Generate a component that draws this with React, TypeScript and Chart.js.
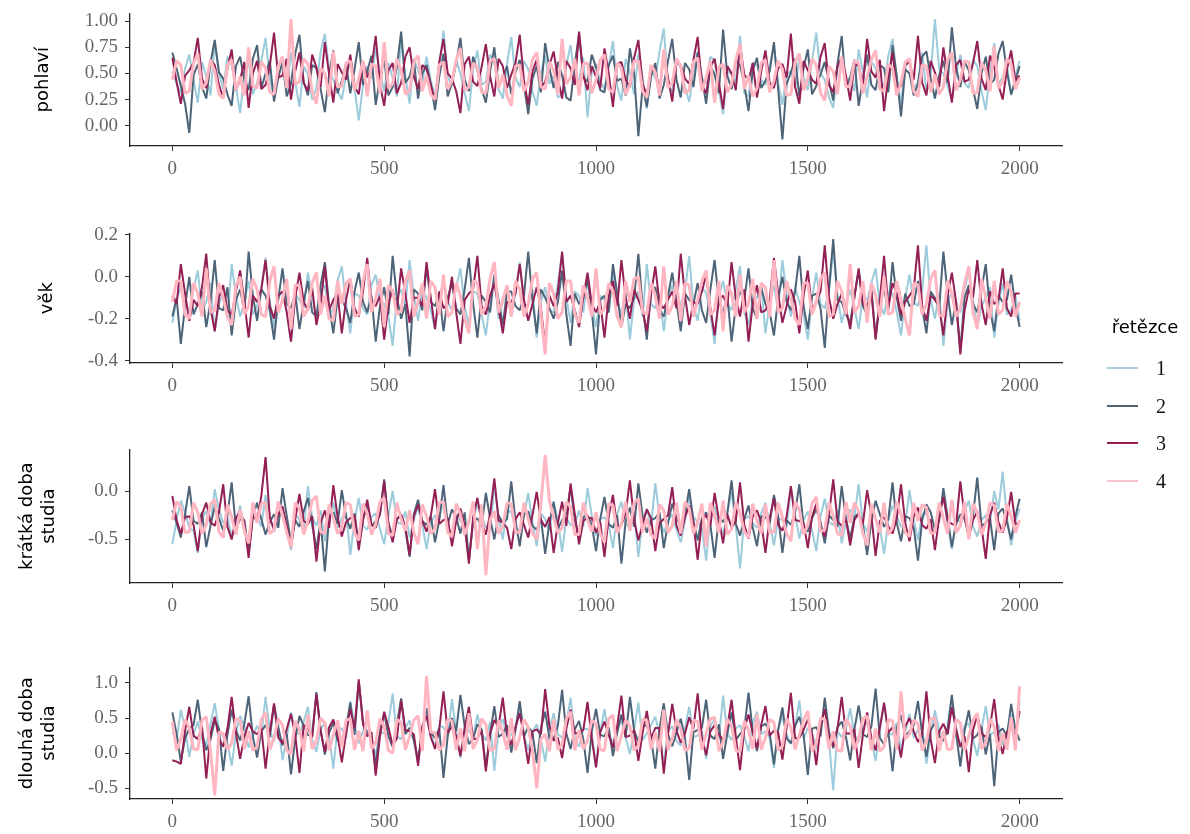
import React, { useEffect, useRef } from 'react';
import { Chart, registerables } from 'chart.js';

Chart.register(...registerables);

// ---------- data ----------
const ITERATIONS = [
  0, 10, 20, 30, 40, 50, 60, 70, 80, 90, 100, 110, 120, 130, 140, 150, 160, 170, 180, 190,
  200, 210, 220, 230, 240, 250, 260, 270, 280, 290, 300, 310, 320, 330, 340, 350, 360, 370, 380, 390,
  400, 410, 420, 430, 440, 450, 460, 470, 480, 490, 500, 510, 520, 530, 540, 550, 560, 570, 580, 590,
  600, 610, 620, 630, 640, 650, 660, 670, 680, 690, 700, 710, 720, 730, 740, 750, 760, 770, 780, 790,
  800, 810, 820, 830, 840, 850, 860, 870, 880, 890, 900, 910, 920, 930, 940, 950, 960, 970, 980, 990,
  1000, 1010, 1020, 1030, 1040, 1050, 1060, 1070, 1080, 1090, 1100, 1110, 1120, 1130, 1140, 1150, 1160, 1170, 1180, 1190,
  1200, 1210, 1220, 1230, 1240, 1250, 1260, 1270, 1280, 1290, 1300, 1310, 1320, 1330, 1340, 1350, 1360, 1370, 1380, 1390,
  1400, 1410, 1420, 1430, 1440, 1450, 1460, 1470, 1480, 1490, 1500, 1510, 1520, 1530, 1540, 1550, 1560, 1570, 1580, 1590,
  1600, 1610, 1620, 1630, 1640, 1650, 1660, 1670, 1680, 1690, 1700, 1710, 1720, 1730, 1740, 1750, 1760, 1770, 1780, 1790,
  1800, 1810, 1820, 1830, 1840, 1850, 1860, 1870, 1880, 1890, 1900, 1910, 1920, 1930, 1940, 1950, 1960, 1970, 1980, 1990,
  2000,
];

const CHAIN_NAMES = ['1', '2', '3', '4'];
const X_TICKS = [0, 500, 1000, 1500, 2000];

// pohlaví
const POHLAVI_1 = [
  .52,.40,.31,.55,.68,.44,.22,.61,.47,.29,.79,.50,.35,.66,.58,.37,.12,.49,.63,.30,
  .41,.62,.84,.45,.27,.58,.55,.34,.70,.42,.18,.57,.49,.25,.36,.71,.88,.53,.44,.33,
  .25,.48,.61,.36,.05,.39,.57,.45,.74,.52,.33,.60,.46,.28,.82,.47,.21,.64,.53,.41,
  .66,.43,.29,.56,.91,.47,.38,.63,.50,.31,.14,.54,.72,.39,.42,.68,.60,.35,.26,.59,
  .85,.46,.37,.62,.54,.33,.19,.51,.67,.40,.48,.27,.30,.58,.77,.44,.43,.65,.08,.52,
  .59,.42,.35,.57,.81,.38,.24,.64,.51,.30,.69,.47,.16,.55,.45,.71,.93,.40,.32,.61,
  .56,.37,.23,.50,.71,.45,.40,.66,.62,.34,.11,.53,.49,.42,.86,.31,.28,.60,.58,.44,
  .39,.58,.75,.41,.20,.49,.52,.36,.65,.47,.34,.62,.89,.50,.44,.27,.17,.55,.60,.39,
  .47,.33,.73,.52,.27,.61,.55,.43,.38,.67,.83,.45,.21,.56,.64,.35,.42,.70,.31,.48,
  1.02,.54,.50,.38,.25,.49,.68,.41,.36,.63,.57,.33,.15,.52,.79,.40,.46,.58,.29,.47,
  .62,
];
const POHLAVI_2 = [
  .70,.55,.38,.21,-.07,.48,.59,.37,.26,.60,.82,.51,.45,.30,.19,.57,.66,.43,.34,.64,
  .77,.36,.50,.62,.23,.46,.61,.28,.40,.69,.87,.42,.29,.58,.55,.35,.13,.49,.72,.31,
  .43,.59,.31,.54,.80,.39,.52,.67,.20,.45,.64,.29,.37,.56,.90,.41,.47,.63,.26,.50,
  .58,.40,.15,.47,.69,.28,.41,.60,.84,.44,.33,.66,.53,.35,.22,.52,.75,.38,.46,.57,
  .30,.51,.63,.39,.11,.45,.57,.32,.79,.55,.36,.61,.48,.27,.24,.59,.88,.46,.42,.68,
  .56,.34,.32,.58,.67,.43,.45,.29,.74,.50,-.10,.38,.18,.47,.60,.26,.39,.62,.83,.44,
  .27,.60,.54,.37,.70,.46,.21,.57,.49,.31,.92,.48,.35,.63,.58,.40,.14,.53,.65,.36,
  .43,.52,.80,.35,-.13,.40,.51,.64,.28,.55,.73,.30,.38,.49,.61,.42,.24,.59,.86,.37,
  .46,.63,.19,.44,.68,.39,.34,.58,.55,.32,.77,.47,.09,.54,.50,.29,.40,.66,.71,.45,
  .26,.48,.62,.41,.94,.56,.37,.61,.53,.35,.16,.50,.66,.40,.44,.69,.81,.52,.30,.43,
  .57,
];
const POHLAVI_3 = [
  .65,.42,.21,.48,.53,.60,.84,.45,.36,.63,.58,.39,.27,.55,.73,.34,.44,.61,.17,.50,
  .62,.35,.39,.57,.89,.46,.48,.64,.25,.52,.70,.41,.33,.68,.56,.37,.80,.49,.22,.59,
  .51,.44,.68,.38,.30,.62,.46,.55,.86,.40,.19,.53,.60,.31,.41,.66,.75,.47,.35,.58,
  .54,.39,.24,.61,.83,.50,.45,.33,.12,.59,.66,.42,.38,.56,.78,.47,.28,.64,.57,.36,
  .49,.60,.87,.43,.20,.52,.63,.37,.42,.58,.71,.45,.26,.62,.55,.39,.90,.48,.34,.57,
  .47,.36,.74,.50,.18,.59,.61,.44,.37,.65,.82,.40,.29,.54,.52,.33,.69,.46,.23,.61,
  .58,.45,.40,.63,.85,.38,.31,.56,.64,.41,.16,.57,.50,.34,.77,.49,.43,.60,.27,.52,
  .72,.41,.36,.55,.59,.46,.88,.37,.21,.62,.53,.44,.40,.66,.79,.39,.32,.57,.65,.48,
  .24,.59,.57,.40,.83,.52,.46,.63,.14,.47,.70,.35,.38,.58,.61,.44,.86,.41,.29,.62,
  .51,.37,.75,.48,.22,.58,.63,.42,.44,.60,.81,.45,.34,.67,.56,.39,.25,.54,.72,.43,
  .48,
];
const POHLAVI_4 = [
  .44,.62,.58,.31,.33,.60,.69,.35,.41,.63,.52,.30,.26,.58,.63,.34,.47,.29,.75,.38,
  .36,.61,.55,.32,.30,.57,.66,.36,1.02,.40,.42,.64,.59,.33,.21,.55,.50,.28,.71,.37,
  .38,.60,.62,.34,.45,.62,.28,.59,.57,.31,.80,.36,.40,.64,.53,.30,.34,.61,.67,.33,
  .48,.30,.25,.58,.61,.35,.43,.63,.74,.34,.37,.60,.56,.32,.31,.62,.64,.36,.49,.29,
  .19,.57,.58,.33,.42,.63,.70,.37,.35,.61,.53,.30,.83,.40,.46,.64,.29,.59,.60,.31,
  .44,.63,.68,.35,.32,.60,.55,.30,.39,.62,.62,.33,.27,.58,.51,.29,.73,.36,.41,.64,
  .57,.31,.34,.61,.65,.33,.46,.62,.22,.56,.59,.32,.40,.63,.78,.35,.48,.28,.36,.60,
  .63,.32,.43,.62,.54,.29,.30,.61,.69,.34,.45,.64,.58,.31,.24,.57,.52,.30,.66,.37,
  .38,.62,.60,.31,.47,.63,.72,.35,.33,.59,.55,.29,.41,.61,.64,.33,.28,.58,.57,.32,
  .49,.30,.37,.63,.70,.34,.44,.62,.61,.31,.32,.60,.53,.33,.76,.36,.42,.64,.59,.35,
  .46,
];

// věk
const VEK_1 = [
  -.22,-.11,-.05,-.14,-.17,-.06,.03,-.16,-.12,-.03,-.26,-.13,-.08,-.20,.06,-.09,-.19,-.12,-.02,-.18,
  -.14,-.05,.09,-.12,-.24,-.10,-.07,-.17,-.31,-.08,-.11,-.15,.02,-.09,-.20,-.07,-.04,-.19,-.15,-.02,
  .05,-.13,-.27,-.08,-.09,-.15,-.18,-.04,.01,-.11,-.13,-.19,-.33,-.10,-.06,-.14,.08,-.09,-.21,-.06,
  -.10,-.16,-.25,-.09,-.03,-.12,-.16,-.05,.04,-.14,-.23,-.07,-.08,-.18,-.28,-.11,.00,-.20,-.12,-.04,
  -.19,-.08,.07,-.13,-.14,-.06,-.29,-.12,-.05,-.16,-.17,-.03,.11,-.10,-.22,-.07,-.09,-.17,-.01,-.14,
  -.24,-.09,-.11,-.17,.03,-.12,-.18,-.06,-.30,-.11,-.07,-.19,.06,-.13,-.15,-.08,-.26,-.10,-.04,-.15,
  -.13,-.07,.10,-.14,-.21,-.05,-.08,-.18,-.32,-.09,-.02,-.13,-.16,-.06,.05,-.17,-.23,-.11,-.10,-.04,
  -.27,-.12,-.04,-.16,.08,-.08,-.19,-.05,-.12,-.18,-.30,-.10,.02,-.13,-.15,-.07,.13,-.09,-.22,-.14,
  -.06,-.15,-.25,-.09,-.11,-.03,.04,-.13,-.18,-.07,-.08,-.17,-.28,-.10,.01,-.12,-.14,-.06,.15,-.11,
  -.20,-.08,-.33,-.12,-.07,-.15,-.17,-.06,.03,-.11,-.24,-.14,-.10,-.05,-.29,-.13,-.03,-.18,-.16,-.09,
  -.21,
];
const VEK_2 = [
  -.19,-.10,-.32,-.14,.00,-.18,-.13,-.07,-.24,-.12,.08,-.15,-.16,-.05,-.28,-.11,-.06,-.17,.12,-.09,
  -.21,-.06,-.09,-.16,-.30,-.11,.04,-.13,-.15,-.08,-.25,-.12,-.02,-.17,-.19,-.04,.07,-.14,-.27,-.10,
  -.11,-.15,-.22,-.07,.02,-.12,-.17,-.09,-.31,-.14,-.05,-.18,.10,-.10,-.20,-.13,-.38,-.06,-.08,-.16,
  .05,-.12,-.14,-.08,-.26,-.10,-.03,-.15,-.18,-.06,.09,-.13,-.29,-.09,-.12,-.17,.01,-.11,-.23,-.07,
  -.07,-.14,-.16,-.09,.12,-.11,-.27,-.06,-.10,-.15,-.20,-.12,.03,-.18,-.33,-.08,-.13,-.10,-.01,-.16,
  -.37,-.11,-.09,-.17,.06,-.08,-.24,-.13,-.15,-.10,.11,-.14,-.30,-.07,-.05,-.16,-.19,-.09,.02,-.12,
  -.26,-.08,-.11,-.13,-.03,-.16,-.22,-.06,.08,-.12,-.17,-.09,-.31,-.14,-.07,-.11,.04,-.15,-.20,-.05,
  -.13,-.17,-.28,-.10,.00,-.12,-.16,-.07,.10,-.14,-.25,-.09,-.08,-.15,-.34,-.06,.18,-.11,-.12,-.18,
  -.22,-.09,.03,-.14,-.18,-.06,-.29,-.11,-.06,-.16,.07,-.10,-.21,-.08,-.14,-.13,-.02,-.15,-.27,-.07,
  -.10,-.15,.12,-.08,-.23,-.12,-.35,-.10,-.04,-.13,-.17,-.06,.06,-.16,-.26,-.09,-.12,-.11,.01,-.14,
  -.24,
];
const VEK_3 = [
  -.09,-.13,.06,-.08,-.21,-.11,-.14,-.05,.11,-.15,-.26,-.10,-.04,-.16,-.18,-.07,.03,-.12,-.29,-.09,
  -.12,-.06,.08,-.14,-.20,-.09,-.07,-.17,-.31,-.10,.02,-.12,-.16,-.05,-.23,-.13,.05,-.16,-.11,-.08,
  -.27,-.11,-.01,-.15,-.19,-.07,.09,-.12,-.14,-.09,-.30,-.13,-.06,-.16,.04,-.08,-.22,-.10,-.10,-.14,
  .07,-.10,-.25,-.07,-.15,-.13,.00,-.17,-.32,-.11,-.08,-.06,.10,-.14,-.18,-.09,-.03,-.15,-.27,-.12,
  -.12,-.08,.06,-.11,-.21,-.13,-.05,-.15,-.33,-.09,-.14,-.07,.12,-.12,-.09,-.16,-.24,-.10,.02,-.13,
  -.17,-.12,-.29,-.09,-.02,-.14,.08,-.10,-.20,-.06,-.11,-.16,-.26,-.08,.05,-.13,-.15,-.11,-.07,-.15,
  .11,-.09,-.23,-.12,-.13,-.07,.01,-.15,-.28,-.11,-.09,-.14,.07,-.10,-.19,-.06,-.31,-.13,-.04,-.17,
  -.16,-.11,.09,-.08,-.22,-.14,-.06,-.12,-.27,-.09,.03,-.16,-.12,-.07,.15,-.10,-.20,-.13,-.08,-.15,
  -.25,-.10,.04,-.13,-.14,-.07,-.30,-.11,.10,-.15,-.03,-.08,-.18,-.12,-.09,-.06,.15,-.14,-.21,-.09,
  -.11,-.14,-.28,-.09,.02,-.12,-.37,-.16,-.06,-.10,.08,-.13,-.23,-.07,-.13,-.11,.04,-.15,-.19,-.08,
  -.08,
];
const VEK_4 = [
  -.12,-.02,-.02,-.18,-.20,-.03,-.08,-.19,.04,-.17,-.16,-.03,-.10,-.19,-.23,-.04,.00,-.18,-.14,-.01,
  -.06,-.18,-.19,-.02,.05,-.17,-.11,-.01,-.25,-.04,-.04,-.19,-.15,-.03,.02,-.18,-.09,-.20,-.21,-.02,
  -.13,-.03,-.01,-.19,-.18,-.02,.06,-.17,-.10,-.01,-.24,-.04,-.07,-.18,-.16,-.02,.03,-.19,-.12,-.03,
  -.20,-.02,-.05,-.18,.01,-.19,-.17,-.03,-.09,-.20,-.27,-.02,-.03,-.18,-.14,-.01,.07,-.17,-.11,-.04,
  -.19,-.02,-.06,-.19,-.13,-.01,.02,-.18,-.37,-.03,-.08,-.20,-.17,-.02,-.02,-.18,-.22,-.04,-.10,-.19,
  .04,-.18,-.15,-.03,-.07,-.19,-.24,-.02,-.12,-.01,.00,-.17,-.18,-.03,-.09,-.20,.05,-.18,-.14,-.02,
  -.21,-.03,-.04,-.19,-.11,-.02,.03,-.18,-.16,-.02,-.26,-.04,-.08,-.19,.01,-.17,-.13,-.01,-.20,-.03,
  -.05,-.19,.08,-.17,-.15,-.02,-.10,-.20,-.23,-.03,-.03,-.18,-.12,-.01,.02,-.19,-.18,-.02,-.07,-.18,
  .06,-.17,-.14,-.02,-.22,-.03,-.09,-.19,.00,-.18,-.17,-.02,-.11,-.20,-.28,-.03,-.04,-.18,-.13,-.01,
  .03,-.18,-.19,-.02,-.08,-.19,-.15,-.03,.05,-.17,-.25,-.01,-.10,-.20,-.02,-.18,-.16,-.02,-.07,-.19,
  -.12,
];

// krátká doba studia
const KRATKA_1 = [
  -.55,-.30,-.10,-.22,-.38,-.41,-.64,-.28,-.21,-.35,.02,-.19,-.33,-.26,-.47,-.33,-.15,-.40,-.58,-.24,
  -.26,-.37,-.04,-.25,-.42,-.29,-.19,-.34,-.61,-.23,-.30,-.41,.05,-.27,-.36,-.20,-.52,-.31,-.12,-.38,
  -.28,-.22,-.66,-.31,-.07,-.36,-.40,-.27,-.23,-.39,-.55,-.25,.00,-.32,-.34,-.21,-.48,-.29,-.17,-.35,
  -.60,-.33,-.25,-.28,-.09,-.40,-.44,-.24,-.31,-.36,-.70,-.30,-.14,-.26,-.37,-.42,.06,-.27,-.50,-.19,
  -.22,-.38,-.41,-.26,-.02,-.32,-.57,-.23,-.29,-.41,-.13,-.30,-.63,-.28,-.35,-.34,-.20,-.37,.03,-.25,
  -.46,-.29,-.27,-.35,-.59,-.24,-.11,-.33,-.39,-.21,-.68,-.30,-.18,-.36,.08,-.27,-.43,-.31,-.24,-.40,
  -.53,-.31,-.06,-.27,-.32,-.39,-.72,-.25,-.16,-.34,-.45,-.22,-.01,-.36,-.80,-.29,-.26,-.33,-.38,-.23,
  -.12,-.34,-.56,-.28,-.30,-.37,.04,-.24,-.49,-.30,-.21,-.41,-.62,-.26,-.08,-.32,-.35,-.20,-.54,-.31,
  -.19,-.27,.07,-.33,-.42,-.22,-.28,-.38,-.65,-.30,-.15,-.26,-.37,-.35,.01,-.29,-.51,-.24,-.23,-.36,
  -.44,-.25,-.03,-.35,-.60,-.28,-.32,-.21,-.10,-.37,-.47,-.30,-.25,-.33,.00,-.19,.20,-.27,-.56,-.32,
  -.18,
];
const KRATKA_2 = [
  -.20,-.33,-.48,-.24,.05,-.31,-.34,-.22,-.58,-.36,-.16,-.28,-.41,-.25,.09,-.38,-.29,-.30,-.63,-.27,
  -.12,-.29,-.45,-.32,-.24,-.38,.03,-.26,-.52,-.30,-.37,-.21,-.07,-.35,-.60,-.31,-.83,-.27,-.22,-.34,
  .01,-.27,-.39,-.23,-.55,-.30,-.14,-.36,-.31,-.25,.12,-.33,-.47,-.29,-.26,-.40,-.68,-.24,-.09,-.31,
  -.35,-.26,-.53,-.30,.06,-.34,-.19,-.27,-.44,-.22,-.71,-.32,-.28,-.37,-.02,-.28,-.50,-.25,-.33,-.29,
  .10,-.31,-.57,-.24,-.21,-.36,-.40,-.28,-.65,-.33,-.11,-.39,-.30,-.23,.04,-.30,-.48,-.27,-.25,-.35,
  -.62,-.29,-.06,-.34,-.38,-.25,-.75,-.31,-.17,-.37,.08,-.26,-.43,-.30,-.28,-.22,-.59,-.33,-.13,-.28,
  -.36,-.24,.02,-.31,-.51,-.28,-.22,-.35,-.69,-.27,-.32,-.23,.11,-.34,-.46,-.29,-.15,-.38,-.57,-.26,
  -.27,-.33,-.04,-.26,-.64,-.30,-.35,-.22,.07,-.36,-.42,-.28,-.19,-.32,-.54,-.25,-.30,-.37,.05,-.29,
  -.49,-.27,-.23,-.35,-.66,-.31,-.10,-.24,-.37,-.29,.09,-.33,-.52,-.26,-.28,-.38,-.72,-.30,-.14,-.22,
  -.40,-.31,.03,-.27,-.58,-.34,-.24,-.29,-.45,-.25,.14,-.36,-.33,-.28,-.61,-.23,-.18,-.32,-.50,-.26,
  -.08,
];
const KRATKA_3 = [
  -.05,-.30,-.44,-.27,-.26,-.35,-.62,-.24,-.12,-.32,-.36,-.22,.07,-.37,-.50,-.28,-.21,-.33,-.69,-.25,
  -.31,-.05,.35,-.28,-.40,-.24,-.16,-.36,-.58,-.29,-.03,-.31,-.34,-.26,-.73,-.33,-.20,-.38,.06,-.27,
  -.47,-.32,-.28,-.25,-.61,-.30,-.09,-.35,-.38,-.23,.10,-.34,-.53,-.29,-.24,-.37,-.66,-.26,-.14,-.31,
  -.42,-.26,.02,-.34,-.30,-.28,-.57,-.31,-.18,-.36,-.75,-.27,-.07,-.32,-.45,-.24,.13,-.30,-.33,-.38,
  -.60,-.29,-.22,-.35,-.48,-.25,-.01,-.30,-.37,-.27,-.64,-.33,-.11,-.36,.08,-.24,-.55,-.31,-.27,-.28,
  -.43,-.32,-.68,-.26,-.04,-.37,-.35,-.23,.11,-.30,-.51,-.34,-.19,-.28,-.62,-.33,-.29,-.25,.04,-.36,
  -.46,-.27,-.15,-.33,-.71,-.30,-.25,-.36,-.02,-.29,-.54,-.24,-.38,-.31,.09,-.35,-.49,-.26,-.20,-.32,
  -.64,-.28,-.08,-.35,-.41,-.26,.05,-.30,-.31,-.33,-.59,-.27,-.13,-.37,-.47,-.24,.12,-.31,-.36,-.29,
  -.56,-.30,-.23,-.34,.01,-.25,-.67,-.31,-.27,-.36,-.44,-.28,.07,-.33,-.52,-.26,-.17,-.35,-.39,-.29,
  -.61,-.27,-.06,-.31,-.34,-.35,.10,-.26,-.48,-.30,-.21,-.37,-.70,-.25,-.12,-.32,-.43,-.28,-.01,-.34,
  -.33,
];
const KRATKA_4 = [
  -.30,-.11,-.16,-.43,-.42,-.12,-.22,-.44,-.35,-.13,-.09,-.42,-.48,-.14,-.27,-.45,-.19,-.41,-.54,-.12,
  -.33,-.13,-.12,-.44,-.40,-.11,-.25,-.43,-.58,-.12,-.18,-.45,-.31,-.10,-.05,-.42,-.44,-.14,-.28,-.44,
  -.37,-.12,-.14,-.43,-.51,-.13,-.23,-.45,-.34,-.11,-.07,-.44,-.46,-.12,-.29,-.41,-.20,-.43,-.55,-.14,
  -.26,-.44,-.39,-.12,-.11,-.43,-.47,-.13,-.24,-.45,-.32,-.11,-.60,-.14,-.87,-.30,-.21,-.44,-.36,-.12,
  -.13,-.42,-.43,-.12,-.29,-.44,-.50,-.13,.37,-.10,-.27,-.43,-.38,-.11,-.17,-.45,-.45,-.12,-.30,-.42,
  -.22,-.44,-.53,-.13,-.15,-.43,-.34,-.11,-.41,-.12,-.08,-.42,-.28,-.45,-.49,-.14,-.20,-.43,-.36,-.12,
  -.44,-.11,-.18,-.44,-.32,-.13,-.57,-.12,-.25,-.43,-.10,-.45,-.39,-.12,-.23,-.42,-.48,-.13,-.31,-.44,
  -.14,-.43,-.42,-.12,-.27,-.44,-.52,-.11,-.19,-.45,-.35,-.13,-.06,-.42,-.40,-.12,-.26,-.44,-.46,-.11,
  -.33,-.12,-.21,-.44,-.56,-.13,-.29,-.43,-.12,-.45,-.38,-.11,-.24,-.43,-.47,-.12,-.31,-.14,-.17,-.44,
  -.43,-.12,-.28,-.44,-.09,-.43,-.36,-.11,-.50,-.13,-.22,-.45,-.34,-.12,-.15,-.42,-.41,-.13,-.26,-.43,
  -.30,
];

// dlouhá doba studia
const DLOUHA_1 = [
  .30,.18,.62,.35,-.05,.27,.45,.20,.12,.41,.71,.33,.24,.15,-.18,.29,.53,.38,.08,.24,
  .39,.26,.80,.31,.17,.42,-.10,.22,.58,.30,.27,.45,.66,.19,.02,.34,.43,.25,-.22,.37,
  .35,.21,.74,.40,.14,.32,.51,.18,-.03,.28,.29,.43,.85,.24,.20,.36,.47,.16,-.14,.30,
  .60,.27,.10,.39,.37,.23,.77,.31,-.07,.36,.32,.20,.55,.29,.18,.44,-.25,.33,.49,.22,
  .26,.38,.68,.24,.05,.30,.41,.19,-.12,.33,.57,.27,.22,.41,.79,.21,.09,.35,.34,.28,
  -.19,.30,.63,.25,.15,.37,.46,.22,-.01,.34,.72,.19,.28,.40,.52,.26,-.16,.32,.38,.17,
  .11,.36,.66,.23,.25,.31,-.08,.39,.48,.20,.82,.28,.19,.35,.40,.24,.03,.42,.59,.27,
  .31,.22,-.21,.34,.54,.26,.13,.37,.75,.21,.36,.29,.06,.40,.50,.18,-.53,.31,.23,.35,
  .64,.25,.16,.38,.44,.20,-.11,.32,.70,.27,.27,.43,.04,.30,.56,.22,.33,.36,-.15,.28,
  .61,.33,.21,.29,.78,.24,.08,.39,.42,.19,-.04,.34,.67,.26,.30,.41,.12,.31,.55,.23,
  .74,
];
const DLOUHA_2 = [
  .58,.27,-.12,.21,.35,.40,.76,.30,.04,.19,.47,.35,-.25,.26,.62,.33,.18,.42,.81,.24,
  -.06,.31,.40,.23,.69,.36,.11,.28,-.30,.20,.53,.39,.26,.25,.87,.34,-.02,.29,.44,.18,
  .15,.37,.72,.26,1.02,.45,.30,.22,-.17,.32,.57,.24,.09,.41,.78,.27,.36,.19,-.09,.33,
  .64,.29,.22,.35,-.35,.25,.50,.31,.83,.38,.13,.21,.41,.34,-.20,.27,.67,.23,.28,.40,
  .01,.33,.74,.24,.37,.30,-.14,.36,.59,.22,.19,.39,.90,.28,.06,.34,.46,.20,-.28,.31,
  .63,.26,.24,.37,-.04,.29,.55,.23,.80,.32,.16,.40,.39,.21,-.22,.35,.71,.27,.10,.30,
  .49,.22,-.38,.30,.33,.36,.76,.25,.20,.41,-.08,.28,.58,.19,.27,.34,.86,.31,.03,.38,
  .42,.29,-.16,.33,.65,.21,.14,.39,.52,.26,-.31,.35,.37,.24,.79,.30,.07,.37,.45,.23,
  -.10,.34,.68,.27,.23,.38,.92,.22,.12,.31,-.26,.36,.54,.25,.31,.40,.74,.28,-.05,.33,
  .43,.25,.17,.36,.83,.29,-.19,.32,.61,.21,.26,.38,-.02,.27,-.47,.30,.35,.24,.70,.34,
  .18,
];
const DLOUHA_3 = [
  -.10,-.12,-.15,.32,.66,.25,.20,.38,-.36,.27,.52,.21,.09,.35,.80,.29,-.08,.24,.43,.31,
  .27,.36,-.22,.30,.71,.22,.14,.34,.56,.26,-.28,.40,.35,.23,.84,.31,.02,.37,.48,.25,
  -.13,.28,.63,.35,1.05,.41,.24,.30,-.32,.24,.59,.37,.11,.21,.75,.33,.31,.27,-.18,.39,
  .53,.23,.06,.34,.88,.29,.38,.25,-.04,.36,.66,.20,.21,.32,-.26,.28,.47,.38,.79,.26,
  .12,.37,.57,.24,-.15,.31,.34,.27,.91,.39,.18,.22,-.07,.35,.62,.28,.29,.33,.73,.21,
  -.20,.30,.45,.26,.08,.38,.82,.23,.25,.33,-.11,.29,.60,.21,.36,.36,-.29,.27,.70,.32,
  .15,.28,.51,.35,.85,.22,-.03,.31,.40,.26,.19,.37,.76,.24,-.24,.34,.55,.29,.07,.40,
  .67,.25,.32,.30,-.09,.37,.86,.21,.22,.33,.48,.27,-.17,.39,.63,.23,.10,.35,.80,.28,
  .28,.34,-.21,.26,.58,.22,.04,.36,.72,.29,.37,.24,-.06,.38,.50,.31,.16,.27,.88,.20,
  -.14,.31,.42,.27,.65,.35,.09,.24,-.27,.33,.54,.28,.23,.37,.77,.22,-.01,.30,.36,.26,
  .60,
];
const DLOUHA_4 = [
  .45,.04,.20,.48,.36,.06,.05,.47,.52,.03,-.60,.30,.28,.05,.14,.49,.47,.06,.31,.04,
  .09,.48,.58,.05,.22,.49,.40,.04,-.02,.46,.34,.03,.55,.06,.17,.50,.43,.04,.26,.47,
  .08,.47,.49,.05,.32,.03,.61,.06,.15,.49,.38,.04,.00,.48,.44,.05,.24,.47,.53,.03,
  1.10,.30,.29,.04,.12,.48,.46,.05,.35,.03,.57,.06,.19,.49,.41,.04,.06,.47,.30,.05,
  .50,.04,.23,.48,.37,.05,-.50,.20,.27,.03,.48,.05,.13,.49,.59,.04,.33,.06,.18,.47,
  .42,.05,.04,.49,.54,.03,.25,.47,.39,.04,.11,.48,.47,.06,.30,.03,.62,.05,.20,.48,
  .35,.04,.07,.47,.45,.05,.28,.49,.51,.03,.16,.48,.40,.04,.02,.46,.33,.06,.56,.05,
  .22,.48,.44,.04,.10,.49,.37,.05,.26,.47,.60,.03,.14,.50,.48,.06,.31,.04,.03,.48,
  .39,.05,.21,.49,.53,.04,.35,.03,.09,.48,.46,.05,.88,.20,.27,.47,.42,.04,.17,.49,
  .50,.03,.32,.05,.06,.48,.43,.04,.24,.47,.57,.06,.15,.49,.38,.03,.29,.05,.51,.04,
  .95,
];

const POHLAVI_TICKS = [0, 0.25, 0.5, 0.75, 1];
const VEK_TICKS = [-0.4, -0.2, 0, 0.2];
const KRATKA_TICKS = [-0.5, 0];
const DLOUHA_TICKS = [-0.5, 0, 0.5, 1];

// ---------- styling / layout ----------
const CHAIN_COLORS = ['#9ccbdc', '#4d6478', '#931f55', '#ffb6c1'];
const CHAIN_WIDTHS = [2, 2, 2, 3];
const LEGEND_COLORS = ['#a9d0de', '#4d6478', '#931f55', '#f7c3cc'];
const SERIF = "'Liberation Serif', 'Times New Roman', serif";
const SANS = "'DejaVu Sans', Verdana, sans-serif";
const PLOT_LEFT = 130;
const PLOT_RIGHT = 1062;
const PAD_TOP = 14;
const X_AXIS_H = 40;

const PANELS = [
  { title: 'pohlaví', chains: [POHLAVI_1, POHLAVI_2, POHLAVI_3, POHLAVI_4], yTicks: POHLAVI_TICKS, decimals: 2, yMin: -0.194, yMax: 1.074, top: 9, bottom: 146, titlePad: 32 },
  { title: 'věk', chains: [VEK_1, VEK_2, VEK_3, VEK_4], yTicks: VEK_TICKS, decimals: 1, yMin: -0.4115, yMax: 0.207, top: 229, bottom: 363, titlePad: 36 },
  { title: ['krátká doba', 'studia'], chains: [KRATKA_1, KRATKA_2, KRATKA_3, KRATKA_4], yTicks: KRATKA_TICKS, decimals: 1, yMin: -0.95, yMax: 0.43, top: 445, bottom: 583, titlePad: 16 },
  { title: ['dlouhá doba', 'studia'], chains: [DLOUHA_1, DLOUHA_2, DLOUHA_3, DLOUHA_4], yTicks: DLOUHA_TICKS, decimals: 1, yMin: -0.651, yMax: 1.22, top: 663, bottom: 799, titlePad: 16 },
];

function TracePanel({ panel }: { panel: any }) {
  const ref = useRef<HTMLCanvasElement>(null);
  const height = panel.bottom - panel.top + PAD_TOP + X_AXIS_H;

  useEffect(() => {
    const canvas = ref.current;
    if (!canvas) return;
    const chart = new Chart(canvas, {
      type: 'line',
      data: {
        datasets: panel.chains.map((vals: number[], ci: number) => ({
          label: CHAIN_NAMES[ci],
          data: ITERATIONS.map((it, i) => ({ x: it, y: vals[i] })),
          borderColor: CHAIN_COLORS[ci],
          borderWidth: CHAIN_WIDTHS[ci],
          borderJoinStyle: 'bevel',
          pointRadius: 0,
          tension: 0,
          fill: false,
          order: 3 - ci,
        })),
      },
      options: {
        responsive: false,
        animation: false,
        events: [],
        layout: { padding: { top: PAD_TOP, right: 1190 - PLOT_RIGHT, bottom: 0, left: 0 } },
        plugins: { legend: { display: false }, tooltip: { enabled: false } },
        scales: {
          x: {
            type: 'linear',
            min: -100,
            max: 2100,
            afterBuildTicks: (s: any) => { s.ticks = X_TICKS.map((v) => ({ value: v })); },
            afterFit: (s: any) => { s.height = X_AXIS_H; },
            grid: { display: true, drawOnChartArea: false, drawTicks: true, tickLength: 5, color: '#333', lineWidth: 1 },
            border: { display: true, color: '#222', width: 1.3 },
            ticks: {
              autoSkip: false,
              maxRotation: 0,
              padding: 7,
              color: '#666',
              font: { family: SERIF, size: 19 },
              callback: (v: any) => String(v),
            },
          },
          y: {
            type: 'linear',
            min: panel.yMin,
            max: panel.yMax,
            afterBuildTicks: (s: any) => { s.ticks = panel.yTicks.map((v: number) => ({ value: v })); },
            afterFit: (s: any) => { s.width = PLOT_LEFT; },
            grid: { display: true, drawOnChartArea: false, drawTicks: true, tickLength: 5, color: '#333', lineWidth: 1 },
            border: { display: true, color: '#222', width: 1.3 },
            ticks: {
              padding: 7,
              color: '#666',
              font: { family: SERIF, size: 19 },
              callback: (v: any) => Number(v).toFixed(panel.decimals),
            },
            title: {
              display: true,
              text: panel.title,
              color: '#000',
              align: 'center',
              font: { family: SANS, size: 18, lineHeight: 22 / 18 },
              padding: { top: panel.titlePad, bottom: 0 },
            },
          },
        },
      },
    } as any);
    return () => chart.destroy();
  }, [panel]);

  return (
    <canvas
      ref={ref}
      width={1190}
      height={height}
      style={{ position: 'absolute', left: 0, top: panel.top - PAD_TOP, width: 1190, height }}
    />
  );
}

const LEGEND_Y = [368, 406, 443, 481];

export default function App() {
  return (
    <div style={{ position: 'absolute', left: 0, top: 0, width: 1190, height: 834, background: '#fff', overflow: 'hidden' }}>
      {PANELS.map((p, i) => (
        <TracePanel key={i} panel={p} />
      ))}
      <div
        style={{
          position: 'absolute', left: 1100, top: 318, width: 90, textAlign: 'center',
          fontFamily: SANS, fontSize: 18, lineHeight: '18px', color: '#000',
        }}
      >
        řetězce
      </div>
      {CHAIN_NAMES.map((name, i) => (
        <React.Fragment key={name}>
          <div
            style={{
              position: 'absolute', left: 1107, top: LEGEND_Y[i] - 1, width: 31, height: 1.5,
              background: LEGEND_COLORS[i],
            }}
          />
          <div
            style={{
              position: 'absolute', left: 1156, top: LEGEND_Y[i] - 10, fontFamily: SERIF,
              fontSize: 20, lineHeight: '20px', color: '#111',
            }}
          >
            {name}
          </div>
        </React.Fragment>
      ))}
    </div>
  );
}
